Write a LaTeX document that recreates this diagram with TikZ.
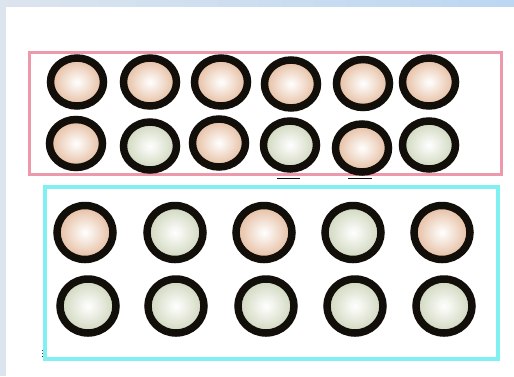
\documentclass[tikz,border=0pt]{standalone}
\usetikzlibrary{shapes.geometric}
\definecolor{peach}{HTML}{E4BA9C}
\definecolor{sage}{HTML}{CDD5BA}
\definecolor{ring}{HTML}{120E0A}
\definecolor{boxpink}{HTML}{EE98AC}
\definecolor{boxcyan}{HTML}{80F0F2}
\definecolor{bandL}{HTML}{DCE4EE}
\definecolor{bandR}{HTML}{BCD7F2}
\tikzset{
  ball/.style={ellipse, draw=ring, line width=7.5pt, inner sep=0pt},
  smallball/.style={ball, minimum width=53pt, minimum height=48pt},
  bigball/.style={ball, minimum width=56pt, minimum height=54pt},
  pk/.style={inner color=white, outer color=peach},
  gr/.style={inner color=white, outer color=sage},
  frame/.style={draw, line join=miter},
}
\begin{document}
\begin{tikzpicture}[x=1pt,y=-1pt]
\useasboundingbox (0,0) rectangle (514,376);
\fill[white] (0,0) rectangle (514,376);
\fill[bandL] (0,0) rectangle (6,376);
\shade[left color=bandL, right color=bandR] (0,0) rectangle (514,6);
% pink group
\node[frame, draw=boxpink, line width=3.2pt, minimum width=472pt, minimum height=122pt, inner sep=0pt] (pinkbox) at (265.6,113.8) {};
\node[smallball,pk] (a1) at (77,82) {};
\node[smallball,pk] (a2) at (150,82) {};
\node[smallball,pk] (a3) at (221,82) {};
\node[smallball,pk] (a4) at (291,84) {};
\node[smallball,pk] (a5) at (363,83.5) {};
\node[smallball,pk] (a6) at (429,82) {};
\node[smallball,pk] (b1) at (76,143.5) {};
\node[smallball,gr] (b2) at (150,146) {};
\node[smallball,pk] (b3) at (219,143) {};
\node[smallball,gr] (b4) at (290,145) {};
\node[smallball,pk] (b5) at (362,148) {};
\node[smallball,gr] (b6) at (429,145) {};
\draw[line width=1.5pt, ring] (277,178.5) -- (300,178.5);
\draw[line width=1.5pt, ring] (348,178.5) -- (372,178.5);
% cyan group
\node[frame, draw=boxcyan, line width=4.5pt, minimum width=453pt, minimum height=172pt, inner sep=0pt] (cyanbox) at (271.5,272.8) {};
\node[bigball,pk] (c1) at (85,232.5) {};
\node[bigball,gr] (c2) at (175,232.5) {};
\node[bigball,pk] (c3) at (264,232.5) {};
\node[bigball,gr] (c4) at (353,232.5) {};
\node[bigball,pk] (c5) at (442,232.5) {};
\node[bigball,gr] (d1) at (88,306) {};
\node[bigball,gr] (d2) at (176,306) {};
\node[bigball,gr] (d3) at (266,306) {};
\node[bigball,gr] (d4) at (355,306) {};
\node[bigball,gr] (d5) at (444,306) {};
\draw[line width=1pt, ring!80, dotted] (42.5,350) -- (42.5,358);
\end{tikzpicture}
\end{document}
